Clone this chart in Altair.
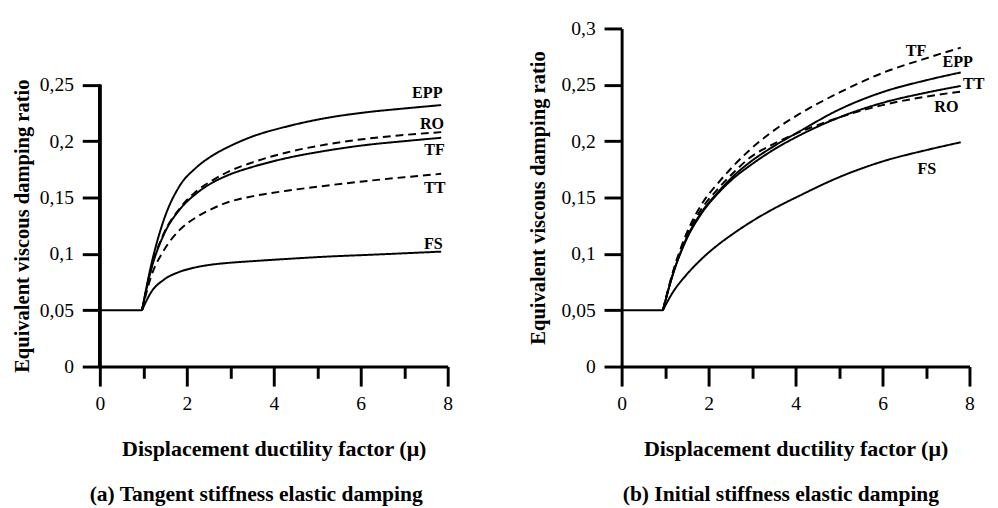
import altair as alt
import pandas as pd

# ---------------- data: panel (a) tangent stiffness ----------------
base_mu_a = [0, 0.97]
base_a = [0.05, 0.05]
mu_a = [0.97, 1.18, 1.47, 1.83, 2.2, 2.58, 2.96, 3.5, 4.3, 5.2, 6.1, 7.0, 7.85]
epp_a = [0.05, 0.090, 0.130, 0.160, 0.176, 0.187, 0.195, 0.204, 0.213, 0.2205, 0.2255, 0.229, 0.232]
ro_a = [0.05, 0.087, 0.118, 0.140, 0.155, 0.165, 0.173, 0.181, 0.190, 0.197, 0.202, 0.2055, 0.208]
tf_a = [0.05, 0.086, 0.117, 0.139, 0.153, 0.163, 0.170, 0.177, 0.185, 0.1915, 0.1965, 0.200, 0.203]
tt_a = [0.05, 0.080, 0.103, 0.121, 0.132, 0.140, 0.146, 0.151, 0.156, 0.1605, 0.1645, 0.168, 0.171]
fs_a = [0.05, 0.066, 0.077, 0.084, 0.088, 0.0905, 0.092, 0.0935, 0.0955, 0.0975, 0.099, 0.1005, 0.102]
series_a = ["EPP", "RO", "TF", "TT", "FS"]
style_a = ["solid", "dashed", "solid", "dashed", "solid"]
label_x_a = [7.53, 7.64, 7.70, 7.70, 7.67]
label_y_a = [0.243, 0.215, 0.192, 0.158, 0.1085]

# ---------------- data: panel (b) initial stiffness ----------------
base_mu_b = [0, 0.95]
base_b = [0.05, 0.05]
mu_b = [0.95, 1.18, 1.47, 1.84, 2.2, 2.57, 2.94, 3.52, 4.06, 5.0, 6.0, 7.0, 7.8]
tf_b = [0.05, 0.084, 0.116, 0.144, 0.162, 0.178, 0.192, 0.210, 0.2235, 0.243, 0.2605, 0.2735, 0.283]
epp_b = [0.05, 0.082, 0.112, 0.137, 0.154, 0.169, 0.181, 0.196, 0.208, 0.228, 0.2435, 0.254, 0.261]
tt_b = [0.05, 0.082, 0.111, 0.136, 0.153, 0.167, 0.178, 0.193, 0.2045, 0.221, 0.234, 0.243, 0.249]
ro_b = [0.05, 0.083, 0.114, 0.140, 0.157, 0.172, 0.185, 0.198, 0.2075, 0.221, 0.232, 0.2395, 0.244]
fs_b = [0.05, 0.066, 0.0805, 0.0955, 0.1075, 0.118, 0.1275, 0.1405, 0.151, 0.168, 0.182, 0.192, 0.199]
series_b = ["TF", "EPP", "TT", "RO", "FS"]
style_b = ["dashed", "solid", "solid", "dashed", "solid"]
label_x_b = [6.77, 7.73, 8.10, 7.47, 7.02]
label_y_b = [0.280, 0.270, 0.251, 0.230, 0.175]

x_ticks = list(range(0, 9))
y_ticks_a = [round(i * 0.025, 3) for i in range(0, 11)]
y_ticks_b = [round(i * 0.025, 3) for i in range(0, 13)]

x_title = "Displacement ductility factor (μ)"
y_title = "Equivalent viscous damping ratio"
caption_a = "(a) Tangent stiffness elastic damping"
caption_b = "(b) Initial stiffness elastic damping"

FONT = "Liberation Serif"
W, H = 356, 346
YMAX = 0.3


def long_df(mu, values, names, styles, base_mu, base_vals):
    rows = []
    for m, v in zip(base_mu, base_vals):
        rows.append({"mu": m, "ratio": v, "series": "base", "style": "solid"})
    for name, style, vals in zip(names, styles, values):
        for m, v in zip(mu, vals):
            rows.append({"mu": m, "ratio": v, "series": name, "style": style})
    return pd.DataFrame(rows)


major_y = "abs(datum.value*20 - round(datum.value*20)) < 0.001"


def panel(df, labels_df, y_ticks, caption, title_pad, title_y, draw_y_rule, ytop, cap_dx):
    xs = alt.Scale(domain=[0, 8], nice=False, zero=False)
    ys = alt.Scale(domain=[0, YMAX], nice=False)
    x_axis = alt.Axis(
        values=x_ticks,
        title=x_title,
        labelExpr="datum.value % 2 === 0 ? datum.label : ''",
        tickSize={"condition": {"test": "datum.value % 2 === 0", "value": 20}, "value": 12},
        labelFlush=False,
        labelOverlap=False,
        labelPadding=8,
        titlePadding=25,
        titleFontSize=22.5,
        grid=False,
    )
    y_axis = alt.Axis(
        values=y_ticks,
        title=y_title,
        labelExpr=major_y + " ? replace(format(datum.value, '.3~f'), '.', ',') : ''",
        tickSize={"condition": {"test": major_y, "value": 18}, "value": 10},
        labelOverlap=False,
        labelPadding=9,
        titlePadding=title_pad,
        titleY=title_y,
        domain=not draw_y_rule,
        grid=False,
    )
    lines = alt.Chart(df).mark_line(interpolate="monotone", strokeWidth=2, color="black").encode(
        x=alt.X("mu:Q", scale=xs, axis=x_axis),
        y=alt.Y("ratio:Q", scale=ys, axis=y_axis),
        detail="series:N",
        strokeDash=alt.StrokeDash(
            "style:N",
            scale=alt.Scale(domain=["solid", "dashed"], range=[[1, 0], [8, 5]]),
            legend=None,
        ),
    )
    texts = alt.Chart(labels_df).mark_text(
        font=FONT, fontSize=16.5, fontWeight="bold", color="black", align="center", baseline="middle"
    ).encode(
        x=alt.X("x:Q", scale=xs),
        y=alt.Y("y:Q", scale=ys),
        text="series:N",
    )
    layers = [lines, texts]
    if draw_y_rule:
        rule = alt.Chart(labels_df).mark_rule(strokeWidth=3, color="black").encode(
            x=alt.datum(0, scale=xs),
            y=alt.datum(0, scale=ys),
            y2=alt.datum(ytop),
        )
        layers.insert(0, rule)
    return alt.layer(*layers).properties(
        width=W,
        height=H,
        title=alt.TitleParams(
            text=caption,
            orient="bottom",
            anchor="middle",
            frame="group",
            font=FONT,
            fontSize=22,
            fontWeight="bold",
            color="black",
            offset=25,
            dx=cap_dx,
        ),
    )


df_a = long_df(mu_a, [epp_a, ro_a, tf_a, tt_a, fs_a], series_a, style_a, base_mu_a, base_a)
df_b = long_df(mu_b, [tf_b, epp_b, tt_b, ro_b, fs_b], series_b, style_b, base_mu_b, base_b)
lab_a = pd.DataFrame({"series": series_a, "x": label_x_a, "y": label_y_a})
lab_b = pd.DataFrame({"series": series_b, "x": label_x_b, "y": label_y_b})

title_y_a = H - 0.125 * H / YMAX

left = panel(df_a, lab_a, y_ticks_a, caption_a, 6.5, title_y_a, True, 0.25, -18)
right = panel(df_b, lab_b, y_ticks_b, caption_b, 12.5, H / 2, False, 0.3, -15)

chart = alt.hconcat(left, right, spacing=77).properties(
    padding={"left": 4, "top": 5, "right": 5, "bottom": 5},
    background="white",
).configure_view(stroke=None).configure_axis(
    domainColor="black",
    domainWidth=3,
    tickColor="black",
    tickWidth=3,
    labelFont=FONT,
    labelFontSize=20,
    labelColor="black",
    titleFont=FONT,
    titleFontSize=21,
    titleFontWeight="bold",
    titleColor="black",
)

chart.save("out.html", embed_options={"renderer": "svg", "actions": False})
